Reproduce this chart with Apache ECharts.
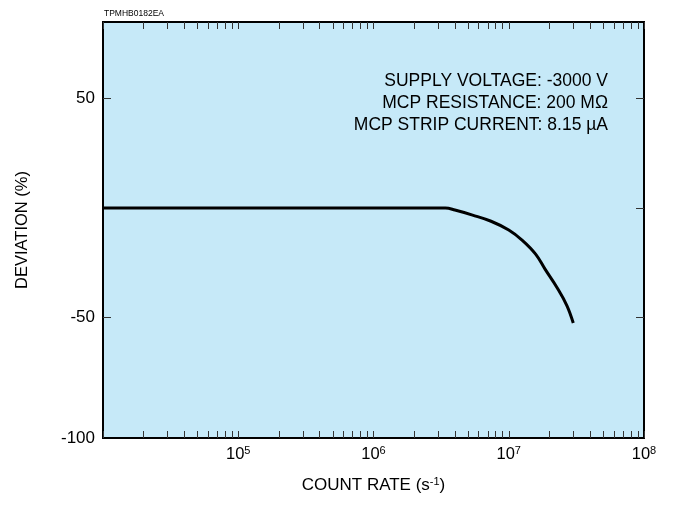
<!DOCTYPE html>
<html>
<head>
<meta charset="utf-8">
<script src="https://cdn.jsdelivr.net/npm/echarts@6/dist/echarts.min.js"></script>
<style>html,body{margin:0;padding:0;background:#fff;}#c{width:677px;height:521px;}</style>
</head>
<body>
<div id="c"></div>
<script>
// Data
var countRate = [1e4, 1e5, 1e6, 3.4e6, 4.0e6, 5.4e6, 7.4e6, 1.0e7, 1.26e7, 1.58e7, 1.86e7, 2.29e7, 2.69e7, 3.0e7];
var deviation = [0, 0, 0, 0, -0.9, -3.2, -6, -10, -14.7, -21, -28, -36.6, -44.5, -52.5];

var xLabelValues = [1e5, 1e6, 1e7, 1e8];
var decades = [1e4, 1e5, 1e6, 1e7];
var mantissas = [1, 2, 3, 4, 5, 6, 7, 8, 9];
var yTickValues = [-105, -50, 50];
var yTickLabels = ['-100', '-50', '50'];
var notes = ['SUPPLY VOLTAGE: -3000 V', 'MCP RESISTANCE: 200 M\u03A9', 'MCP STRIP CURRENT: 8.15 \u00B5A'];

var xTicks = [];
decades.forEach(function (d) { mantissas.forEach(function (m) { xTicks.push(d * m); }); });
xTicks.push(1e8);

var FONT = 'Liberation Sans, Arial, Helvetica, sans-serif';
var chart = echarts.init(document.getElementById('c'));
var supStyle = { fontSize: 11, verticalAlign: 'bottom', padding: [0, 0, 8, 0], color: '#000', fontFamily: FONT };

function xAxisDef(pos, showLabels) {
  return {
    type: 'log', logBase: 10, min: 1e4, max: 1e8, position: pos,
    axisLine: { show: true, onZero: false, lineStyle: { color: '#000', width: 2 } },
    splitLine: { show: false },
    axisTick: { show: true, inside: true, length: 7, customValues: xTicks, lineStyle: { color: '#333', width: 1 } },
    axisLabel: showLabels ? {
      show: true, customValues: xLabelValues, margin: 7,
      formatter: function (v) { return '10{sup|' + Math.round(Math.log10(v)) + '}'; },
      color: '#000', fontFamily: FONT, fontSize: 16.5,
      rich: { sup: supStyle }
    } : { show: false },
    name: showLabels ? 'COUNT RATE (s{sup|-1})' : '',
    nameLocation: 'middle', nameGap: 38,
    nameTextStyle: { color: '#000', fontFamily: FONT, fontSize: 17, rich: { sup: supStyle } }
  };
}
function yAxisDef(pos, showLabels) {
  return {
    type: 'value', min: -105, max: 85, position: pos,
    axisLine: { show: true, onZero: false, lineStyle: { color: '#000', width: 2 } },
    splitLine: { show: false },
    axisTick: { show: true, inside: true, length: 8, customValues: [-50, 0, 50], lineStyle: { color: '#333', width: 1 } },
    axisLabel: showLabels ? {
      show: true, customValues: yTickValues, margin: 8,
      formatter: function (v) { return yTickLabels[yTickValues.indexOf(v)]; },
      color: '#000', fontFamily: FONT, fontSize: 17
    } : { show: false },
    name: showLabels ? 'DEVIATION (%)' : '',
    nameLocation: 'middle', nameGap: 72,
    nameTextStyle: { color: '#000', fontFamily: FONT, fontSize: 16.5 }
  };
}

chart.setOption({
  animation: false,
  backgroundColor: '#fff',
  title: { text: 'TPMHB0182EA', left: 99, top: 4, textStyle: { fontSize: 8.5, fontWeight: 'normal', color: '#000', fontFamily: FONT } },
  grid: { left: 103, right: 33, top: 22, bottom: 83, show: true, backgroundColor: '#C6E9F8', borderColor: '#000', borderWidth: 2 },
  xAxis: [xAxisDef('bottom', true), xAxisDef('top', false)],
  yAxis: [yAxisDef('left', true), yAxisDef('right', false)],
  graphic: notes.map(function (t, i) {
    return { type: 'text', x: 608, y: 81.5 + i * 21.7,
      style: { text: t, fill: '#000', font: '17.5px ' + FONT, textAlign: 'right', textVerticalAlign: 'middle' } };
  }),
  series: [{
    type: 'line', smooth: 0.4, showSymbol: false,
    data: countRate.map(function (x, i) { return [x, deviation[i]]; }),
    lineStyle: { color: '#000', width: 3 }
  }]
});
</script>
</body>
</html>
